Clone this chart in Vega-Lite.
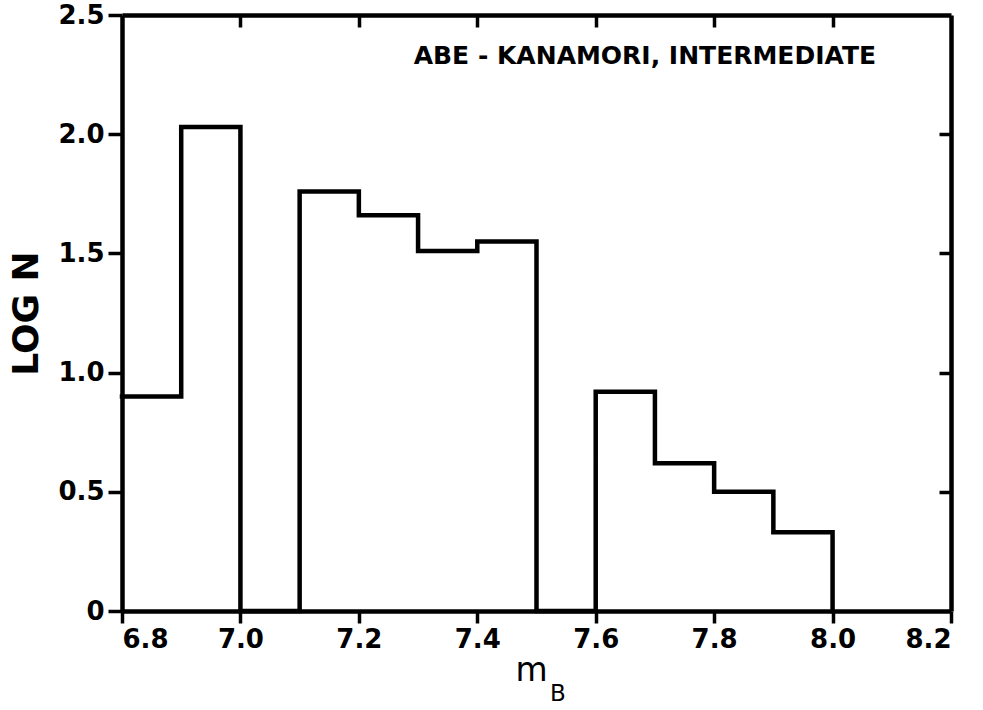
{
  "$schema": "https://vega.github.io/schema/vega-lite/v6.json",
  "width": 829,
  "height": 596,
  "autosize": {"type": "none"},
  "padding": {"left": 122, "top": 15, "right": 32, "bottom": 99},
  "background": "white",
  "config": {
    "view": {"stroke": null},
    "font": "DejaVu Sans",
    "axis": {
      "domainColor": "black",
      "domainWidth": 4.5,
      "tickColor": "black",
      "tickWidth": 3.5,
      "grid": false,
      "labelColor": "black",
      "labelFont": "DejaVu Sans",
      "labelFontSize": 26,
      "labelFontWeight": "bold",
      "titleColor": "black",
      "titleFont": "DejaVu Sans"
    }
  },
  "resolve": {"axis": {"x": "independent", "y": "independent"}},
  "layer": [
    {
      "data": {
        "values": [
          {"mB": 6.8, "logN": 0.9},
          {"mB": 6.9, "logN": 2.03},
          {"mB": 7.0, "logN": 0},
          {"mB": 7.1, "logN": 1.76},
          {"mB": 7.2, "logN": 1.66},
          {"mB": 7.3, "logN": 1.51},
          {"mB": 7.4, "logN": 1.55},
          {"mB": 7.5, "logN": 0},
          {"mB": 7.6, "logN": 0.92},
          {"mB": 7.7, "logN": 0.62},
          {"mB": 7.8, "logN": 0.5},
          {"mB": 7.9, "logN": 0.33},
          {"mB": 8.0, "logN": 0}
        ]
      },
      "mark": {"type": "line", "interpolate": "step-after", "color": "black", "strokeWidth": 4.5, "strokeJoin": "miter", "strokeCap": "square"},
      "encoding": {
        "x": {
          "field": "mB", "type": "quantitative",
          "scale": {"domain": [6.8, 8.2], "nice": false, "zero": false},
          "axis": {
            "orient": "bottom",
            "values": [6.8, 7.0, 7.2, 7.4, 7.6, 7.8, 8.0, 8.2],
            "format": ".1f",
            "tickSize": 12,
            "labelPadding": 3,
            "title": "m",
            "titleFontSize": 33,
            "titleFontWeight": "normal",
            "titlePadding": 2,
            "titleX": 409
          }
        },
        "y": {
          "field": "logN", "type": "quantitative",
          "scale": {"domain": [0, 2.5], "nice": false},
          "axis": {
            "orient": "left",
            "values": [0, 0.5, 1.0, 1.5, 2.0, 2.5],
            "labelExpr": "datum.value == 0 ? '0' : format(datum.value, '.1f')",
            "tickSize": 14,
            "labelPadding": 4,
            "title": "LOG N",
            "titleFontSize": 36,
            "titleFontWeight": "bold",
            "titlePadding": 12
          }
        }
      }
    },
    {
      "data": {"values": [{"label": "ABE - KANAMORI,  INTERMEDIATE", "x": 7.683, "y": 2.326}]},
      "mark": {"type": "text", "font": "DejaVu Sans", "fontWeight": "bold", "fontSize": 25, "color": "black", "align": "center", "baseline": "middle", "letterSpacing": 1.5},
      "encoding": {
        "x": {
          "field": "x", "type": "quantitative",
          "axis": {"orient": "top", "values": [7.0, 7.2, 7.4, 7.6, 7.8, 8.0], "labels": false, "tickSize": -12, "title": null}
        },
        "y": {
          "field": "y", "type": "quantitative",
          "axis": {"orient": "right", "values": [0.5, 1.0, 1.5, 2.0], "labels": false, "tickSize": -12, "title": null}
        },
        "text": {"field": "label"}
      }
    },
    {
      "data": {"values": [{"label": "B", "x": 7.536, "y": -0.35}]},
      "mark": {"type": "text", "font": "DejaVu Sans", "fontSize": 23, "color": "black", "align": "center", "baseline": "middle"},
      "encoding": {
        "x": {"field": "x", "type": "quantitative", "axis": null},
        "y": {"field": "y", "type": "quantitative", "axis": null},
        "text": {"field": "label"}
      }
    }
  ]
}
